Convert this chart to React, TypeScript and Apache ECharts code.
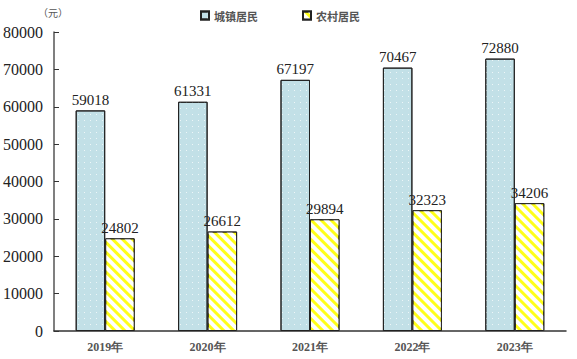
import React, { useEffect, useRef } from "react";
import * as echarts from "echarts";

const categories = ["2019年", "2020年", "2021年", "2022年", "2023年"];
const urbanValues = [59018, 61331, 67197, 70467, 72880];
const ruralValues = [24802, 26612, 29894, 32323, 34206];
const seriesNames = ["城镇居民", "农村居民"];

export default function App() {
  const ref = useRef<HTMLDivElement>(null);
  useEffect(() => {
    if (!ref.current) return;
    const chart = echarts.init(ref.current, null, { renderer: "svg" });
    const serif = "Liberation Serif";
    chart.setOption({
      animation: false,
      backgroundColor: "#ffffff",
      grid: { left: 53, right: 11, top: 32, bottom: 28, containLabel: false },
      legend: {
        left: 195,
        top: 5,
        itemWidth: 8,
        itemHeight: 8,
        itemGap: 44,
        textStyle: { fontSize: 11, color: "#555", fontFamily: "Noto Sans CJK SC", fontWeight: "bold" },
        data: [
          { name: seriesNames[0], icon: "rect" },
          { name: seriesNames[1], icon: "rect" },
        ],
      },
      graphic: [
        {
          type: "text",
          left: 38,
          top: 7,
          style: { text: "（元）", fontSize: 10, fill: "#555", fontFamily: "Noto Sans CJK SC" },
        },
      ],
      xAxis: {
        type: "category",
        data: categories,
        axisLine: { lineStyle: { color: "#333", width: 1.5 } },
        axisTick: { inside: true, length: 5, lineStyle: { color: "#333" } },
        axisLabel: {
          fontSize: 12,
          color: "#555",
          margin: 10,
          fontWeight: "bold",
          fontFamily: serif,
        },
      },
      yAxis: {
        type: "value",
        min: 0,
        max: 80000,
        interval: 10000,
        splitLine: { show: false },
        axisLine: { show: true, lineStyle: { color: "#555", width: 1.5 } },
        axisTick: { show: true, inside: true, length: 5, lineStyle: { color: "#333" } },
        axisLabel: {
          fontSize: 16,
          color: "#222",
          margin: 11,
          fontFamily: serif,
          formatter: (v: number) => String(v),
        },
      },
      series: [
        {
          name: seriesNames[0],
          type: "bar",
          data: urbanValues,
          barWidth: 29.5,
          barGap: "0%",
          itemStyle: {
            color: "#c2e0e7",
            borderColor: "#222",
            borderWidth: 1,
            decal: {
              symbol: "rect",
              symbolSize: 1,
              color: "rgba(255,255,255,0.7)",
              dashArrayX: [1, 5],
              dashArrayY: [1, 5],
            },
          },
          label: {
            show: true,
            position: "top",
            distance: 3,
            fontSize: 15,
            color: "#222",
            fontFamily: serif,
          },
        },
        {
          name: seriesNames[1],
          type: "bar",
          data: ruralValues,
          barWidth: 29.5,
          barGap: "0%",
          itemStyle: {
            color: "#ffff1a",
            borderColor: "#222",
            borderWidth: 1,
            decal: {
              symbol: "rect",
              symbolSize: 1,
              color: "#ffffff",
              dashArrayX: [1, 0],
              dashArrayY: [4, 3],
              rotation: Math.PI / 4,
            },
          },
          label: {
            show: true,
            position: "top",
            distance: 3,
            fontSize: 15,
            color: "#222",
            fontFamily: serif,
          },
        },
      ],
    });
    return () => chart.dispose();
  }, []);
  return <div ref={ref} style={{ width: 577, height: 359, position: "absolute", left: 0, top: 0 }} />;
}
